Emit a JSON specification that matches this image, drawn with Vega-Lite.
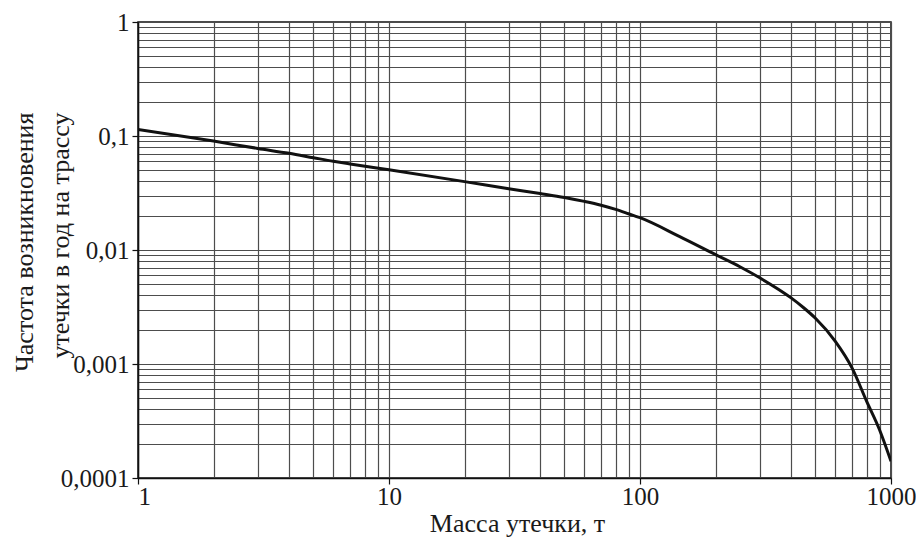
{
  "$schema": "https://vega.github.io/schema/vega-lite/v6.json",
  "width": 753,
  "height": 456,
  "autosize": "none",
  "padding": {"left": 138, "top": 22, "right": 25, "bottom": 59},
  "background": "white",
  "config": {
    "font": "'Liberation Serif', 'Times New Roman', 'DejaVu Serif', serif",
    "view": {"stroke": "#111", "strokeWidth": 1.5},
    "axis": {
      "labelFont": "'Liberation Serif', 'Times New Roman', 'DejaVu Serif', serif",
      "titleFont": "'Liberation Serif', 'Times New Roman', 'DejaVu Serif', serif",
      "labelFontSize": 25,
      "titleFontSize": 26,
      "labelColor": "#1a1a1a",
      "titleColor": "#1a1a1a",
      "titleFontWeight": "normal",
      "domainColor": "#111",
      "domainWidth": 1.5,
      "tickColor": "#111",
      "tickWidth": 1.2,
      "tickSize": 6,
      "gridColor": "#4d4d4d",
      "gridWidth": 1.2,
      "gridOpacity": 1,
      "labelOverlap": false,
      "labelBound": false
    }
  },
  "data": {
    "values": [
      {"mass": 1, "freq": 0.114},
      {"mass": 2, "freq": 0.0902},
      {"mass": 3, "freq": 0.0778},
      {"mass": 4, "freq": 0.0705},
      {"mass": 5, "freq": 0.0645},
      {"mass": 6, "freq": 0.06},
      {"mass": 7, "freq": 0.0568},
      {"mass": 10, "freq": 0.0505},
      {"mass": 20, "freq": 0.0398},
      {"mass": 30, "freq": 0.0345},
      {"mass": 40, "freq": 0.0313},
      {"mass": 50, "freq": 0.0289},
      {"mass": 60, "freq": 0.0267},
      {"mass": 70, "freq": 0.0247},
      {"mass": 80, "freq": 0.0227},
      {"mass": 90, "freq": 0.0208},
      {"mass": 100, "freq": 0.0192},
      {"mass": 144, "freq": 0.0131},
      {"mass": 200, "freq": 0.0091},
      {"mass": 250, "freq": 0.00713},
      {"mass": 300, "freq": 0.0057},
      {"mass": 400, "freq": 0.0038},
      {"mass": 450, "freq": 0.0031},
      {"mass": 500, "freq": 0.00252},
      {"mass": 600, "freq": 0.00158},
      {"mass": 700, "freq": 0.00092},
      {"mass": 800, "freq": 0.00047},
      {"mass": 900, "freq": 0.000265},
      {"mass": 1000, "freq": 0.00014}
    ]
  },
  "mark": {"type": "line", "color": "#111", "strokeWidth": 3, "interpolate": "monotone", "clip": true},
  "encoding": {
    "x": {
      "field": "mass",
      "type": "quantitative",
      "scale": {"type": "log", "domain": [1, 1000], "nice": false},
      "axis": {
        "title": "Масса утечки, т",
        "titleX": 379,
        "titleY": 53,
        "titleBaseline": "alphabetic",
        "grid": true,
        "values": [1, 2, 3, 4, 5, 6, 7, 8, 9, 10, 20, 30, 40, 50, 60, 70, 80, 90, 100, 200, 300, 400, 500, 600, 700, 800, 900, 1000],
        "labelExpr": "abs(log(datum.value)/LN10 - round(log(datum.value)/LN10)) < 1e-6 ? toString(datum.value) : ''",
        "labelAlign": {"condition": {"test": "datum.value <= 1", "value": "left"}, "value": "center"},
        "labelPadding": 0,
        "tickOpacity": {"condition": {"test": "abs(log(datum.value)/LN10 - round(log(datum.value)/LN10)) < 1e-6", "value": 1}, "value": 0}
      }
    },
    "y": {
      "field": "freq",
      "type": "quantitative",
      "scale": {"type": "log", "domain": [0.0001, 1], "nice": false},
      "axis": {
        "title": ["Частота возникновения", "утечки в год на трассу"],
        "titleAngle": -90,
        "titleAlign": "right",
        "titleBaseline": "alphabetic",
        "titleLineHeight": 36,
        "titleX": -106,
        "titleY": 90,
        "grid": true,
        "values": [0.0001, 0.0002, 0.0003, 0.0004, 0.0005, 0.0006, 0.0007, 0.0008, 0.0009, 0.001, 0.002, 0.003, 0.004, 0.005, 0.006, 0.007, 0.008, 0.009, 0.01, 0.02, 0.03, 0.04, 0.05, 0.06, 0.07, 0.08, 0.09, 0.1, 0.2, 0.3, 0.4, 0.5, 0.6, 0.7, 0.8, 0.9, 1],
        "labelExpr": "abs(log(datum.value)/LN10 - round(log(datum.value)/LN10)) < 1e-6 ? replace(toString(datum.value), '.', ',') : ''",
        "labelPadding": 3,
        "tickOpacity": {"condition": {"test": "abs(log(datum.value)/LN10 - round(log(datum.value)/LN10)) < 1e-6", "value": 1}, "value": 0}
      }
    }
  }
}
